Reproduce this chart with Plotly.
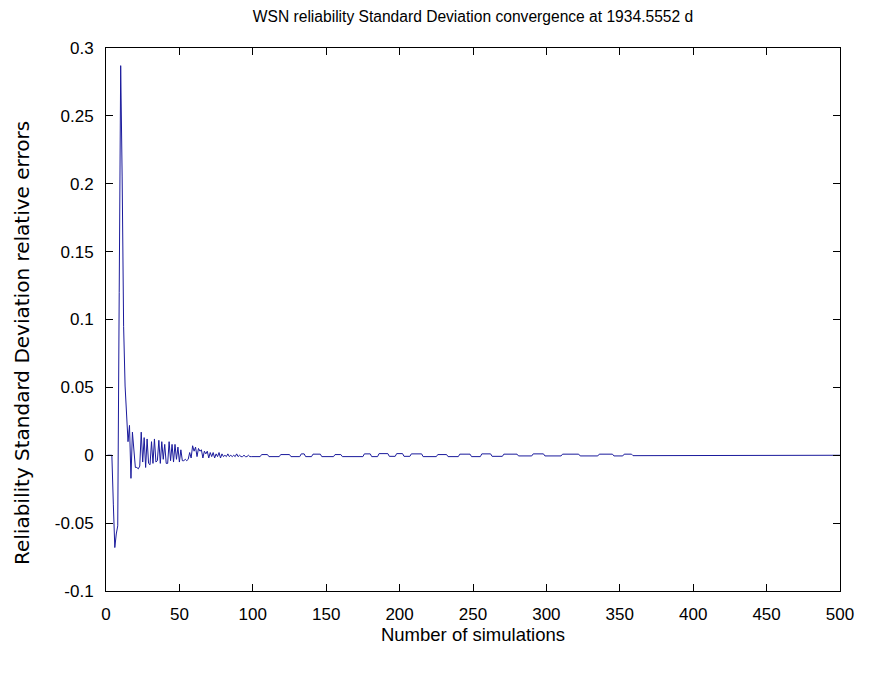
import plotly.graph_objects as go

# Relative error per simulation count, n = 1..100
head_n = list(range(1, 101))
head_err = [
    0.0, 0.0, 0.0, 0.0, -0.036, -0.068, -0.058, -0.052, 0.12, 0.287,
    0.205, 0.095, 0.051, 0.027, 0.010, 0.022, -0.017, 0.017, 0.005, -0.009,
    -0.009, -0.010, -0.008, 0.017, -0.005, 0.013, -0.009, 0.012, -0.006, -0.007,
    0.010, -0.006, 0.012, -0.005, -0.004, 0.011, -0.006, 0.010, -0.003, 0.008,
    -0.006, -0.006, 0.010, -0.004, 0.008, -0.005, 0.008, -0.003, 0.006, -0.005,
    0.004, -0.004, -0.004, -0.003, -0.004, -0.003, 0.002, -0.002, 0.007, 0.003,
    0.006, -0.001, 0.005, 0.003, 0.004, -0.002, 0.003, 0.001, 0.003, -0.002,
    0.002, -0.001, 0.002, -0.002, 0.001, -0.001, 0.002, -0.002, 0.001, -0.001,
    0.000, -0.001, 0.001, -0.001, 0.000, -0.001, 0.000, -0.001, 0.001, -0.001,
    0.000, -0.001, -0.001, 0.000, -0.001, -0.001, 0.000, -0.001, -0.001, -0.001,
]

# Tail vertices (small wiggles, then settled at zero)
tail_n = [101, 105, 106, 110, 111, 118, 119, 125, 126, 132, 133, 135, 136, 140,
          141, 146, 147, 155, 156, 160, 161, 175, 176, 180, 181, 185, 186, 192,
          193, 197, 198, 202, 203, 207, 208, 215, 216, 225, 226, 232, 233, 240,
          241, 248, 249, 255, 256, 262, 263, 270, 271, 280, 281, 290, 291, 298,
          299, 310, 311, 322, 323, 335, 336, 345, 346, 352, 353, 358, 359, 365,
          366, 500]
tail_err = [-0.001, -0.001, 0.0005, 0.0005, -0.001, -0.001, 0.0005, 0.0005,
            -0.001, -0.001, 0.001, 0.001, -0.001, -0.001, 0.0008, 0.0008, -0.001,
            -0.001, 0.0005, 0.0005, -0.001, -0.001, 0.001, 0.001, -0.001, -0.001,
            0.0012, 0.0012, -0.0008, -0.0008, 0.0012, 0.0012, -0.0008, -0.0008,
            0.001, 0.001, -0.001, -0.001, 0.0005, 0.0005, -0.001, -0.001, 0.0008,
            0.0008, -0.001, -0.001, 0.001, 0.001, -0.0008, -0.0008, 0.0008,
            0.0008, -0.0005, -0.0005, 0.001, 0.001, -0.0005, -0.0005, 0.0008,
            0.0008, -0.0005, -0.0005, 0.0008, 0.0008, -0.0005, -0.0005, 0.0008,
            0.0008, -0.0003, -0.0003, 0.0, 0.0]

x_vals = head_n + tail_n
y_vals = head_err + tail_err

x_ticks = [0, 50, 100, 150, 200, 250, 300, 350, 400, 450, 500]
y_ticks = [-0.1, -0.05, 0, 0.05, 0.1, 0.15, 0.2, 0.25, 0.3]
y_tick_text = ["-0.1", "-0.05", "0", "0.05", "0.1", "0.15", "0.2", "0.25", "0.3"]

fig = go.Figure()
fig.add_trace(go.Scatter(x=x_vals, y=y_vals, mode="lines",
                         line=dict(color="#1a1a9c", width=1)))

font_family = "Liberation Sans, Arial, sans-serif"
axis_common = dict(showgrid=False, zeroline=False, showline=True, linecolor="black",
                   linewidth=1, mirror="ticks", ticks="inside", ticklen=7,
                   tickcolor="black", ticklabelstandoff=8,
                   tickfont=dict(family=font_family, size=17, color="black"))

# page has an 8px body margin; figure is 861x684 so it fits the 877x700 window
W, H = 861, 684
L, R, T, B = 98, 832, 40, 583
fig.update_layout(
    width=W, height=H,
    paper_bgcolor="white", plot_bgcolor="white",
    margin=dict(l=L, r=W - R, t=T, b=H - B),
    showlegend=False,
    title=dict(text="WSN reliability Standard Deviation convergence at 1934.5552 d",
               x=(L + R) / 2 / W, xanchor="center", y=1 - 3 / H, yanchor="top",
               pad=dict(t=0, b=0),
               font=dict(family=font_family, size=15.6, color="black")),
    xaxis=dict(range=[0, 500], tickvals=x_ticks,
               title=dict(text="Number of simulations", standoff=4,
                          font=dict(family=font_family, size=18.5, color="black")),
               **axis_common),
    yaxis=dict(range=[-0.1, 0.3], tickvals=y_ticks, ticktext=y_tick_text,
               **axis_common),
)

fig.add_annotation(
    text="Reliability Standard Deviation relative errors",
    xref="paper", yref="paper",
    x=(14 - L) / (R - L), y=(B - 335) / (B - T),
    xanchor="center", yanchor="middle", textangle=-90, showarrow=False,
    font=dict(family="DejaVu Sans, Liberation Sans, sans-serif", size=20, color="black"),
)

fig.write_html("out.html")
